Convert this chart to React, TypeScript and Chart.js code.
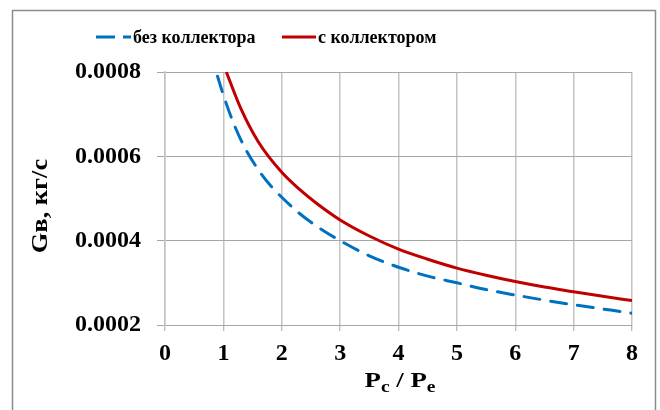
import React, { useEffect, useRef } from "react";
import { Chart, registerables } from "chart.js";

Chart.register(...registerables);

const xNoCollector = [0.9, 1.0, 1.2, 1.4, 1.6, 1.8, 2.0, 2.3, 2.6, 3.0, 3.5, 4.0, 4.5, 5.0, 5.5, 6.0, 6.5, 7.0, 7.5, 8.0];
const gNoCollector = [0.00079, 0.000745, 0.00067, 0.000612, 0.000568, 0.000532, 0.000503, 0.000465, 0.000434, 0.0004, 0.000364, 0.000337, 0.000316, 0.0003, 0.000284, 0.000271, 0.000259, 0.000248, 0.000238, 0.000228];

const xCollector = [1.05, 1.3, 1.6, 2.0, 2.3, 2.6, 3.0, 3.5, 4.0, 4.5, 5.0, 5.5, 6.0, 6.5, 7.0, 7.5, 8.0];
const gCollector = [0.0008, 0.000713, 0.000634, 0.000562, 0.000522, 0.000488, 0.000449, 0.000411, 0.00038, 0.000356, 0.000335, 0.000318, 0.000303, 0.00029, 0.000279, 0.000268, 0.000258];

const seriesNames = ["без коллектора", "с коллектором"];
const yTitle = "Gв, кг/с";
const xTitleParts = ["P", "c", " / ", "P", "e"];

const BLUE = "#0070C0";
const RED = "#C00000";
const FONT = "'Liberation Serif', 'Times New Roman', serif";

const decorPlugin = {
  id: "decor",
  beforeDraw(chart: any) {
    const ctx = chart.ctx;
    ctx.save();
    ctx.fillStyle = "#ffffff";
    ctx.fillRect(0, 0, chart.width, chart.height);
    ctx.strokeStyle = "#8c8c8c";
    ctx.lineWidth = 1.5;
    ctx.strokeRect(12.5, 10.5, 643, 440);
    ctx.restore();
  },
  afterDraw(chart: any) {
    const ctx = chart.ctx;
    ctx.save();
    // legend
    ctx.lineWidth = 3;
    ctx.strokeStyle = BLUE;
    ctx.setLineDash([19, 8]);
    ctx.beginPath();
    ctx.moveTo(96, 37);
    ctx.lineTo(131, 37);
    ctx.stroke();
    ctx.setLineDash([]);
    ctx.strokeStyle = RED;
    ctx.beginPath();
    ctx.moveTo(282, 37);
    ctx.lineTo(316, 37);
    ctx.stroke();
    ctx.fillStyle = "#000";
    ctx.font = `bold 18px ${FONT}`;
    ctx.textBaseline = "middle";
    ctx.textAlign = "left";
    ctx.fillText(seriesNames[0], 133, 38);
    ctx.fillText(seriesNames[1], 318, 38);

    // y title
    ctx.save();
    ctx.translate(41, 206);
    ctx.rotate(-Math.PI / 2);
    ctx.scale(1.15, 1);
    ctx.font = `bold 23px ${FONT}`;
    ctx.textAlign = "center";
    ctx.textBaseline = "middle";
    ctx.fillText(yTitle, 0, 0);
    ctx.restore();

    // x title with subscripts
    const big = `bold 22px ${FONT}`;
    const small = `bold 16px ${FONT}`;
    const fonts = [big, small, big, big, small];
    const sx = 1.22;
    let total = 0;
    const widths = xTitleParts.map((t, i) => {
      ctx.font = fonts[i];
      const w = ctx.measureText(t).width;
      total += w;
      return w;
    });
    ctx.save();
    ctx.translate(400 - (total * sx) / 2, 0);
    ctx.scale(sx, 1);
    let x = 0;
    ctx.textAlign = "left";
    ctx.textBaseline = "alphabetic";
    xTitleParts.forEach((t, i) => {
      ctx.font = fonts[i];
      const sub = fonts[i] === small;
      ctx.fillText(t, x, sub ? 392 : 387);
      x += widths[i];
    });
    ctx.restore();
    ctx.restore();
  },
};

export default function App() {
  const ref = useRef<HTMLCanvasElement | null>(null);
  useEffect(() => {
    if (!ref.current) return;
    const chart = new Chart(ref.current, {
      type: "line",
      data: {
        datasets: [
          {
            label: seriesNames[0],
            data: xNoCollector.map((x, i) => ({ x, y: gNoCollector[i] })),
            borderColor: BLUE,
            borderWidth: 3,
            borderDash: [16, 11],
            borderCapStyle: "round",
            pointRadius: 0,
            fill: false,
            cubicInterpolationMode: "monotone",
          },
          {
            label: seriesNames[1],
            data: xCollector.map((x, i) => ({ x, y: gCollector[i] })),
            borderColor: RED,
            borderWidth: 3,
            pointRadius: 0,
            fill: false,
            cubicInterpolationMode: "monotone",
          },
        ],
      },
      options: {
        animation: false,
        responsive: false,
        layout: { padding: { left: 0, right: 28, top: 72, bottom: 0 } },
        plugins: {
          legend: { display: false },
          tooltip: { enabled: false },
        },
        scales: {
          x: {
            type: "linear",
            min: 0,
            max: 8,
            afterFit: (s: any) => {
              s.height = 85;
            },
            ticks: {
              stepSize: 1,
              color: "#000",
              font: { family: FONT, size: 24, weight: "bold" },
              padding: 8,
              maxRotation: 0,
            },
            grid: {
              color: "#c4c4c4",
              lineWidth: 1.5,
              tickLength: 6,
              tickColor: "#a6a6a6",
              tickWidth: 1,
            },
            border: { color: "#a6a6a6", width: 1 },
          },
          y: {
            type: "linear",
            min: 0.0002,
            max: 0.0008,
            afterFit: (s: any) => {
              s.width = 165;
            },
            ticks: {
              stepSize: 0.0002,
              color: "#000",
              font: { family: FONT, size: 24, weight: "bold" },
              padding: 16,
              callback: (v: any) => Number(v).toFixed(4),
            },
            grid: {
              color: "#a6a6a6",
              lineWidth: 1,
              tickLength: 8,
            },
            border: { color: "#c4c4c4", width: 1.5 },
          },
        },
      },
      plugins: [decorPlugin],
    });
    return () => chart.destroy();
  }, []);
  return (
    <div style={{ position: "fixed", left: 0, top: 0, width: 660, height: 410 }}>
      <canvas ref={ref} width={660} height={410} style={{ width: 660, height: 410 }} />
    </div>
  );
}
